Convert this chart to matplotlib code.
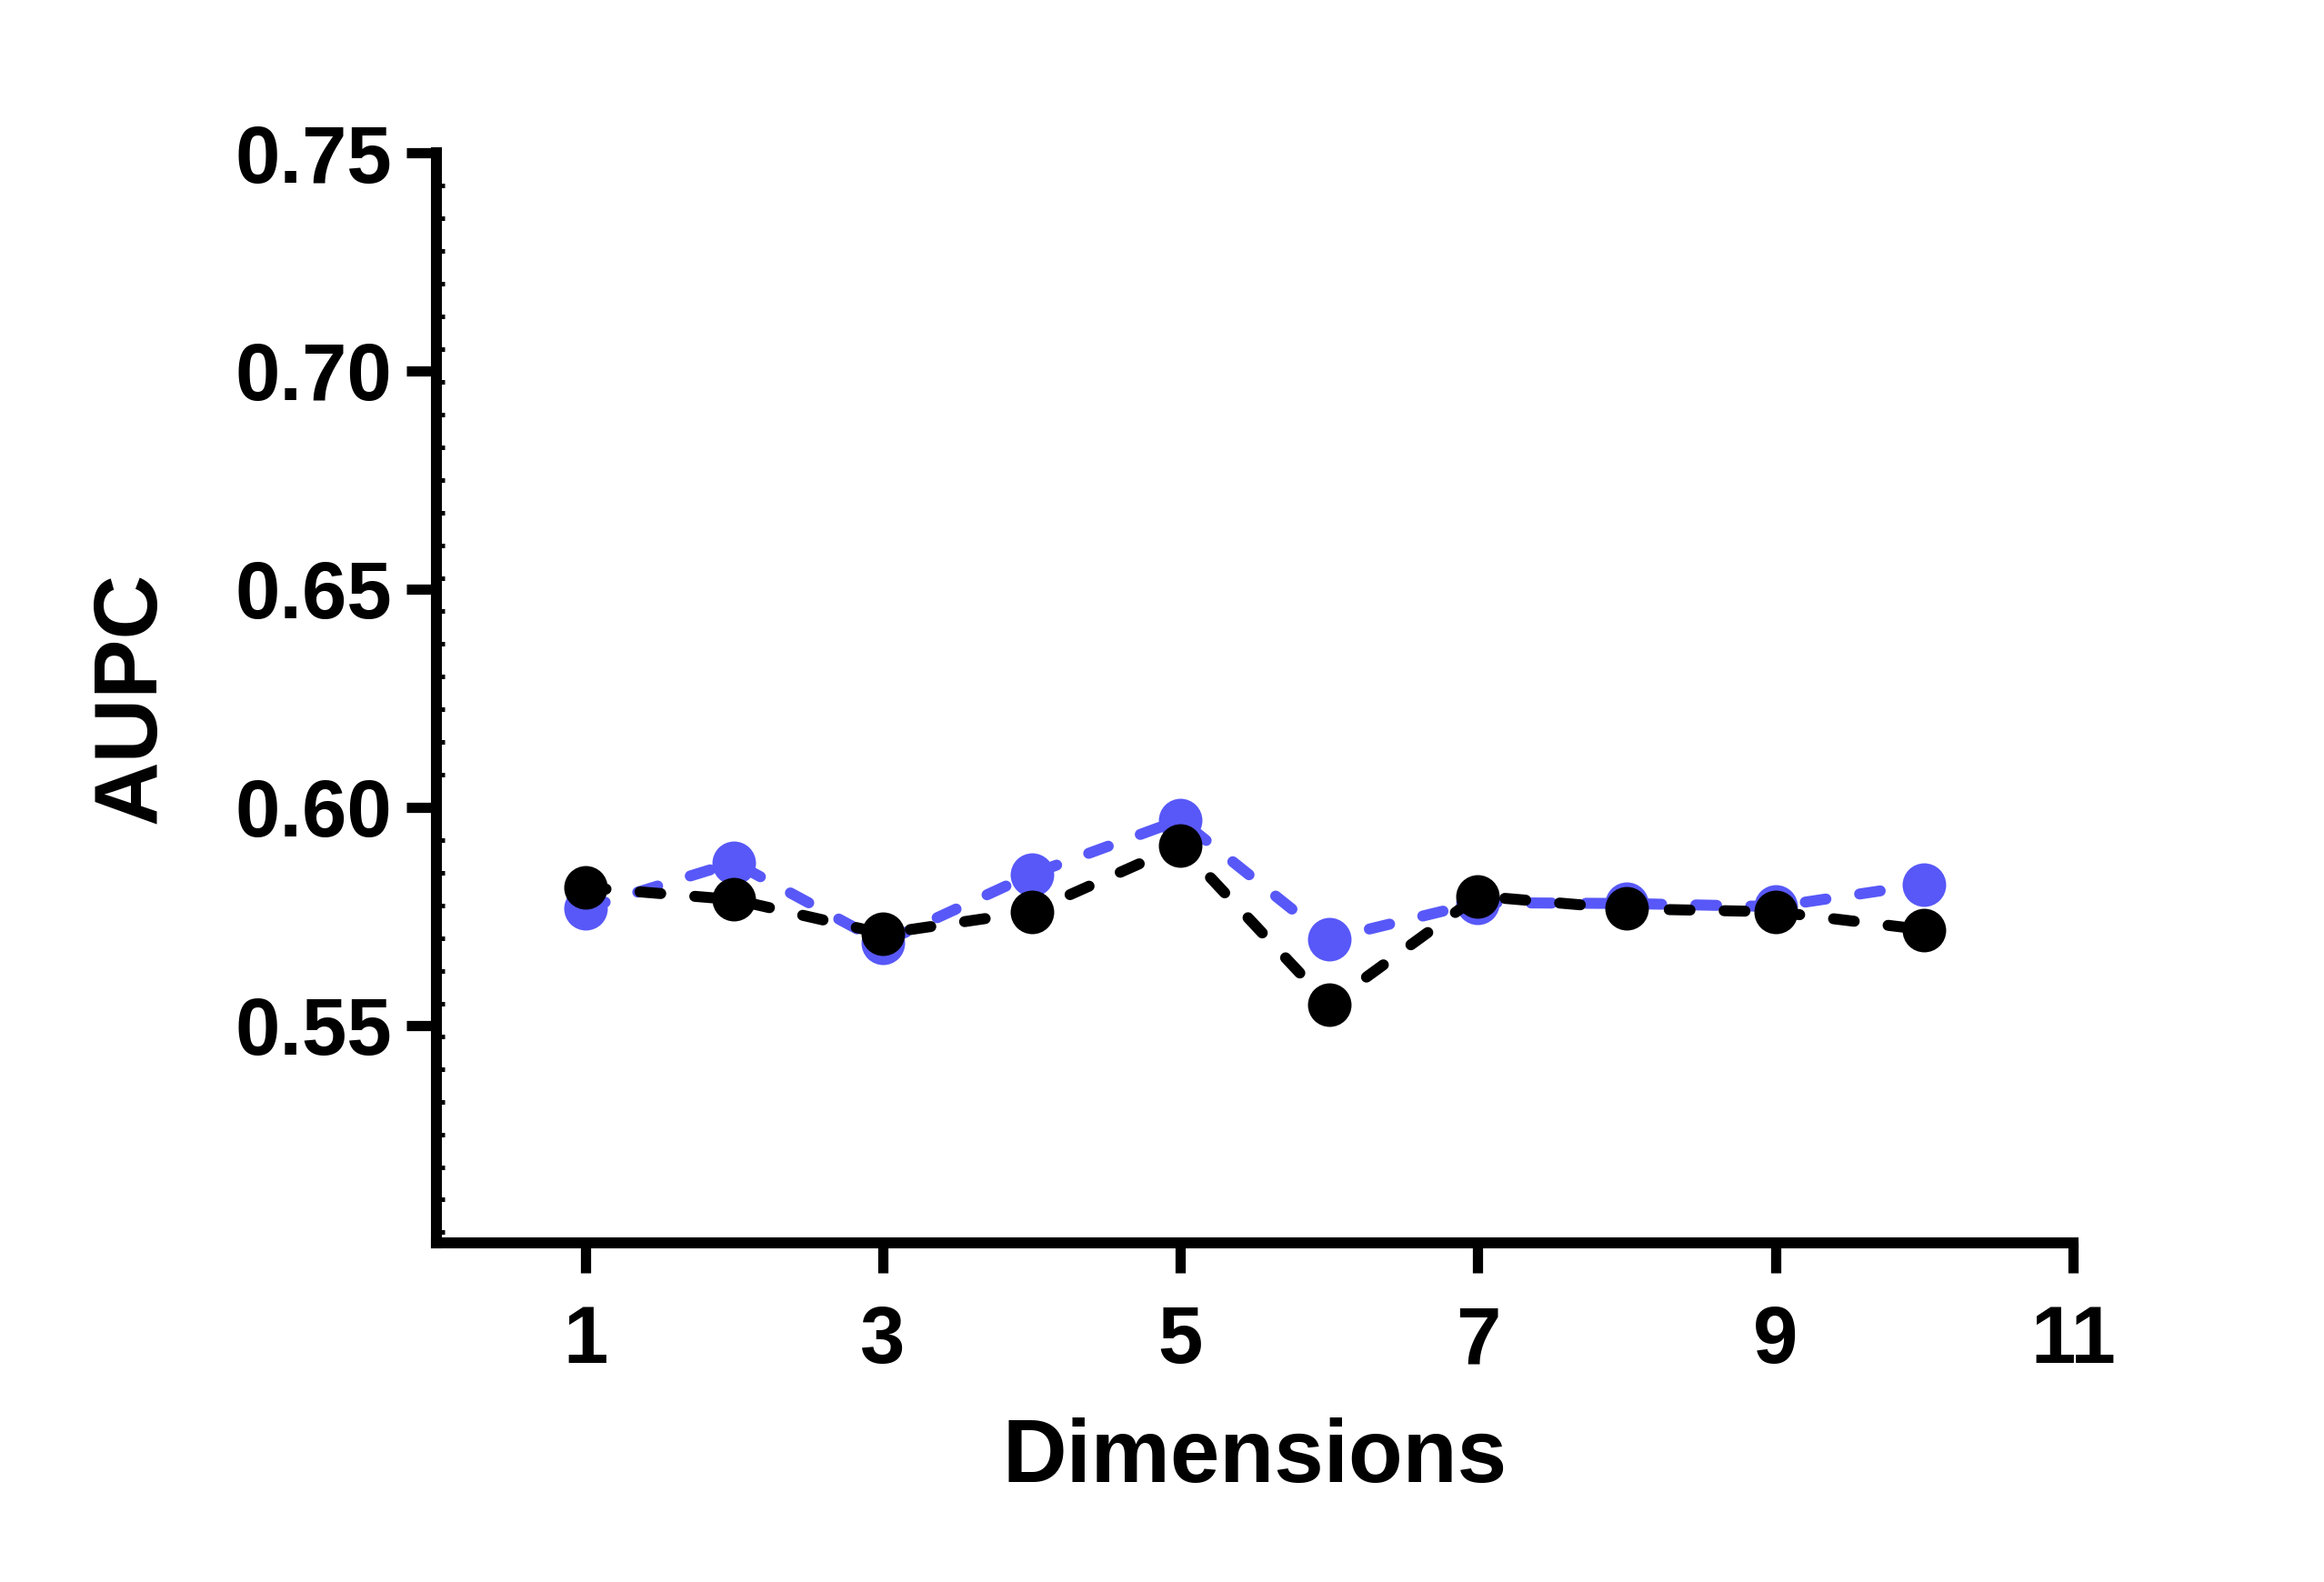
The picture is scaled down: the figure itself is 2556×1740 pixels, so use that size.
import numpy as np
import matplotlib
matplotlib.use("Agg")
import matplotlib.pyplot as plt
from matplotlib.ticker import FixedLocator

plt.rcParams["font.family"] = ["Liberation Sans", "DejaVu Sans"]
plt.rcParams["font.weight"] = "bold"

dims       = [1, 2, 3, 4, 5, 6, 7, 8, 9, 10]
aupc_blue  = [0.5768, 0.5873, 0.5689, 0.5846, 0.5971, 0.5698, 0.5781, 0.5779, 0.5772, 0.5823]
aupc_black = [0.5816, 0.5788, 0.5710, 0.5760, 0.5912, 0.5548, 0.5796, 0.5767, 0.5760, 0.5719]

x_ticks = [1, 3, 5, 7, 9, 11]
y_ticks = [0.55, 0.60, 0.65, 0.70, 0.75]

BLUE  = "#5858F8"
LW    = 2.9
DASH  = (1.9, 3.1)

fig = plt.figure(figsize=(8.52, 5.8), dpi=300)
ax = fig.add_axes([0.1878, 0.2141, 0.892 - 0.1878, 0.9034 - 0.2141])

for vals, col, z in [(aupc_blue, BLUE, 3), (aupc_black, "black", 4)]:
    ax.plot(dims, vals, color=col, lw=LW, dashes=DASH, dash_capstyle="round",
            marker="o", markersize=11.5, markeredgewidth=0, zorder=z,
            clip_on=False)

ax.set_xlim(0, 11)
ax.set_ylim(0.50, 0.75)
ax.set_xticks(x_ticks)
ax.set_yticks(y_ticks)
ax.set_yticklabels([f"{v:.2f}" for v in y_ticks])
# small inward ticks along the y axis, as in the original
ax.yaxis.set_minor_locator(FixedLocator(np.arange(0.75, 0.499, -0.0075)))

for side in ("top", "right"):
    ax.spines[side].set_visible(False)
for side in ("left", "bottom"):
    ax.spines[side].set_linewidth(2.9)
    ax.spines[side].set_capstyle("projecting")

ax.tick_params(axis="both", which="major", direction="out", length=8,
               width=2.7, labelsize=21.3, pad=3.7)
ax.tick_params(axis="y", which="minor", direction="in", length=2.2, width=1.2)
ax.tick_params(axis="x", which="major", pad=8)

ax.set_xlabel("Dimensions", fontsize=23.5, fontweight="bold", labelpad=9.7)
ax.set_ylabel("AUPC", fontsize=23.5, fontweight="bold", labelpad=16.3)

fig.savefig("out.png", dpi=300)
